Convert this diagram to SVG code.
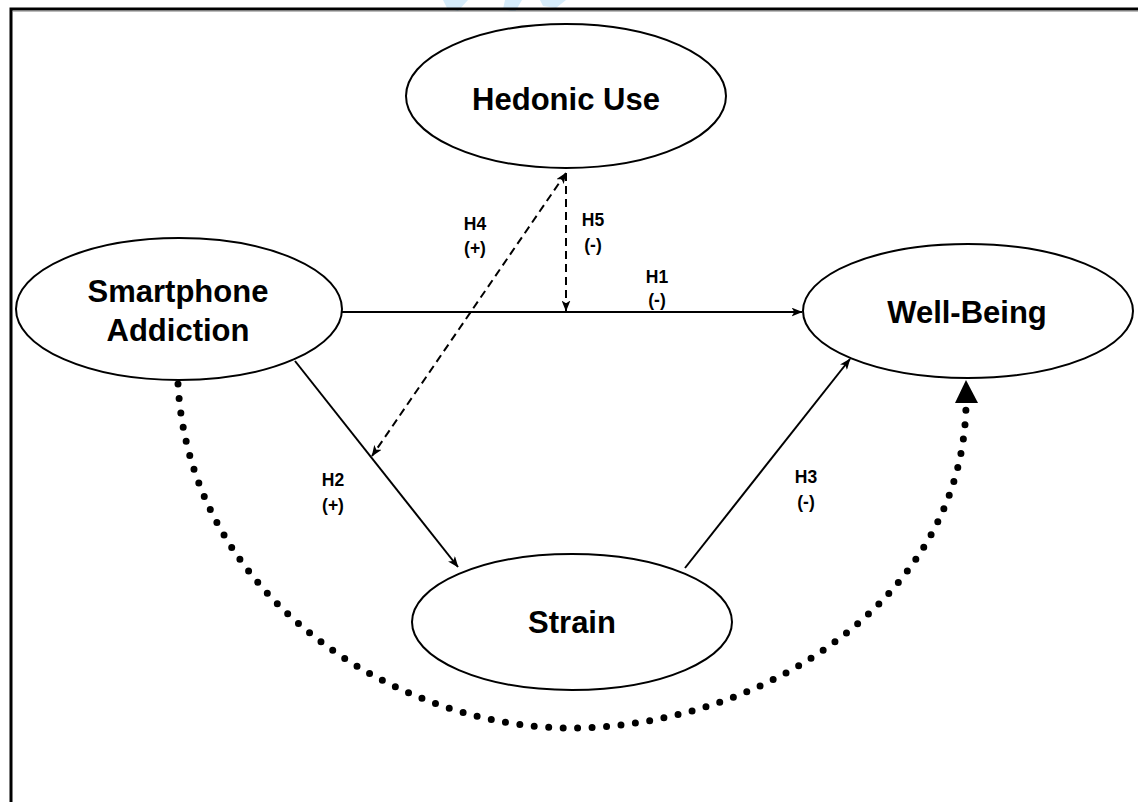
<svg xmlns="http://www.w3.org/2000/svg" width="1138" height="802" viewBox="0 0 1138 802">
<defs>
<style>
.node{fill:#fff;stroke:#000;stroke-width:2}
.nt{font-family:"Liberation Sans",Arial,sans-serif;font-weight:bold;font-size:31px;fill:#000;text-anchor:middle}
.lt{font-family:"Liberation Sans",Arial,sans-serif;font-weight:bold;font-size:17.5px;fill:#000;text-anchor:middle}
.solid{fill:none;stroke:#000;stroke-width:2}
.dash{fill:none;stroke:#000;stroke-width:2;stroke-dasharray:8 5}
.dots{fill:none;stroke:#000;stroke-width:7;stroke-linecap:round;stroke-dasharray:0 14.5}
</style>
<marker id="ah" viewBox="0 0 10 8" refX="9.5" refY="4" markerWidth="11" markerHeight="9" markerUnits="userSpaceOnUse" orient="auto-start-reverse">
<path d="M0,0 L10,4 L0,8 L2.5,4 z" fill="#000"/>
</marker>
</defs>
<rect width="1138" height="802" fill="#fff"/>
<g id="watermark" fill="#d6ecfa">
<polygon points="443,0 468,0 458,11 447,8"/>
<polygon points="505,0 522,0 515,12 503,9"/>
<polygon points="540,0 566,0 556,8 543,6"/>
</g>
<g id="frame">
<path d="M11,802 L11,9 L1138,9" fill="none" stroke="#000" stroke-width="3"/>
<path d="M13,11.5 L1138,11.5" fill="none" stroke="#bbb" stroke-width="1"/>
</g>
<g id="connectors">
<line class="solid" x1="342" y1="312" x2="802" y2="312" marker-end="url(#ah)"/>
<line class="solid" x1="295" y1="361" x2="458" y2="567" marker-end="url(#ah)"/>
<line class="solid" x1="685" y1="568" x2="850" y2="359" marker-end="url(#ah)"/>
<line class="dash" x1="566" y1="173" x2="372" y2="456" marker-start="url(#ah)" marker-end="url(#ah)"/>
<line class="dash" x1="566" y1="173" x2="566" y2="311" marker-end="url(#ah)"/>
<path class="dots" d="M178,384 C190,600 400,728 570,728 C760,728 962,600 966,406"/>
<polygon points="966,380 955,403 978,403" fill="#000"/>
</g>
<g id="labels">
<text class="lt" x="475" y="230">H4</text>
<text class="lt" x="475" y="254">(+)</text>
<text class="lt" x="593" y="226">H5</text>
<text class="lt" x="593" y="251">(-)</text>
<text class="lt" x="657" y="283">H1</text>
<text class="lt" x="657" y="306">(-)</text>
<text class="lt" x="333" y="486">H2</text>
<text class="lt" x="333" y="511">(+)</text>
<text class="lt" x="806" y="483">H3</text>
<text class="lt" x="806" y="508">(-)</text>
</g>
<g id="hedonic">
<ellipse class="node" cx="566" cy="96" rx="160" ry="72"/>
<text class="nt" x="566" y="110">Hedonic Use</text>
</g>
<g id="smartphone">
<ellipse class="node" cx="179" cy="309" rx="163" ry="71"/>
<text class="nt" x="178" y="302">Smartphone</text>
<text class="nt" x="178" y="341">Addiction</text>
</g>
<g id="wellbeing">
<ellipse class="node" cx="968" cy="311" rx="165" ry="67"/>
<text class="nt" x="967" y="323">Well-Being</text>
</g>
<g id="strain">
<ellipse class="node" cx="572" cy="622" rx="160" ry="68"/>
<text class="nt" x="572" y="633">Strain</text>
</g>
</svg>
